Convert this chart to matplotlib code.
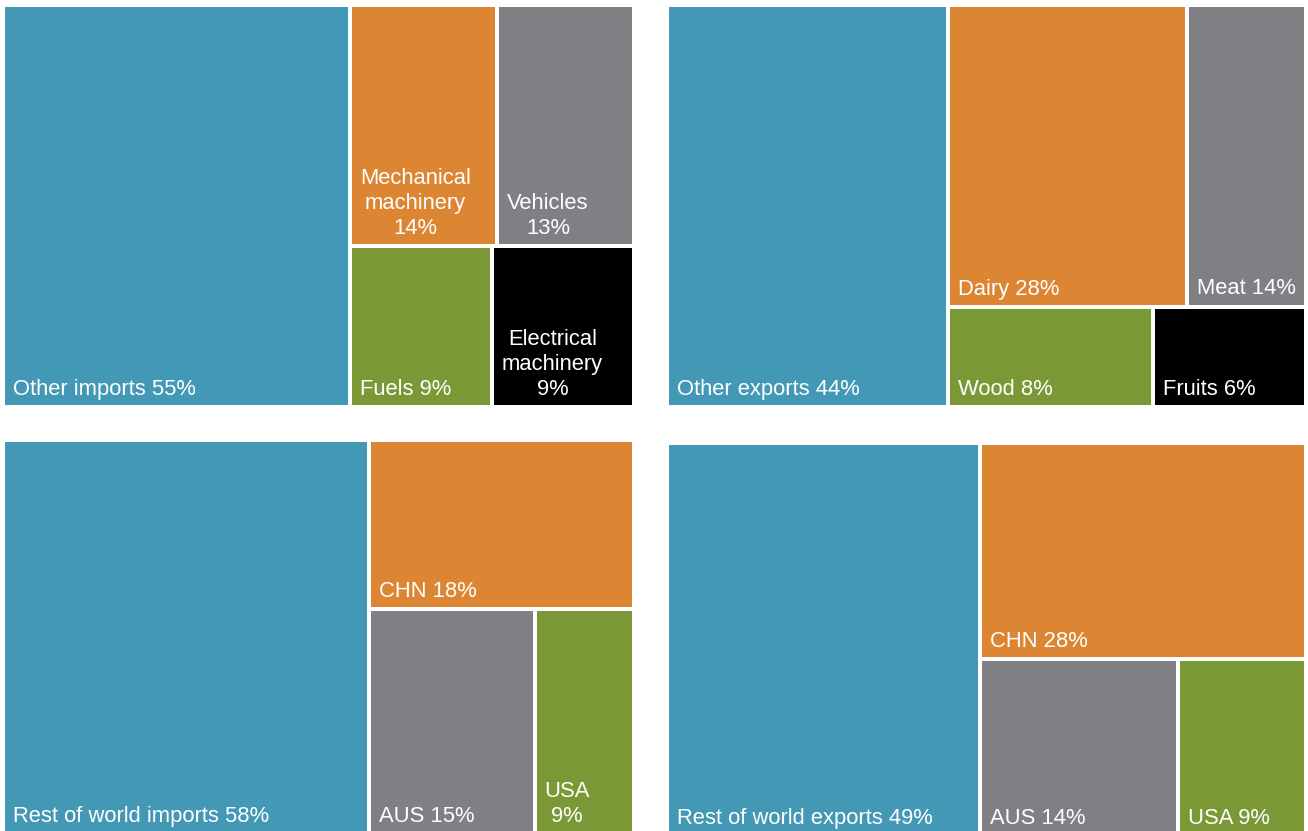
import matplotlib
matplotlib.use("Agg")
import matplotlib.pyplot as plt
from matplotlib.patches import Rectangle

# Composition of trade, in percent of the total
imp_names = ["Other imports", "Mechanical\nmachinery", "Vehicles", "Fuels", "Electrical\nmachinery"]
imp_values = [55, 14, 13, 9, 9]
imp_seps = [" ", "\n", "\n", " ", "\n"]

exp_names = ["Other exports", "Dairy", "Meat", "Wood", "Fruits"]
exp_values = [44, 28, 14, 8, 6]
exp_seps = [" ", " ", " ", " ", " "]

src_names = ["Rest of world imports", "CHN", "AUS", "USA"]
src_values = [58, 18, 15, 9]
src_seps = [" ", " ", " ", "\n"]

dst_names = ["Rest of world exports", "CHN", "AUS", "USA"]
dst_values = [49, 28, 14, 9]
dst_seps = [" ", " ", " ", " "]

colors = ["#4398B5", "#DC8634", "#808084", "#7A9836", "#000000"]

GAP = 2      # half of the white gutter between tiles
PAD_X = 8
PAD_Y = 5
FS = 15.8


def layout(values, rows, x0, y0, x1, y1):
    """First value is a full-height column, the rest are stacked rows."""
    total = float(sum(values))
    w = x1 - x0
    h = y1 - y0
    xs = x0 + w * values[0] / total
    boxes = [(x0, y0, xs, y1)]
    rest = total - values[0]
    y = y0
    for row in rows:
        row_sum = sum(values[i] for i in row)
        yb = y + h * row_sum / rest
        x = xs
        for i in row:
            xe = x + (x1 - xs) * values[i] / row_sum
            boxes.append((x, y, xe, yb))
            x = xe
        y = yb
    return boxes


def draw_treemap(ax, names, values, seps, rows, slot):
    boxes = layout(values, rows, *slot)
    for k, (bx0, by0, bx1, by1) in enumerate(boxes):
        ax.add_patch(Rectangle((bx0 + GAP, by0 + GAP), bx1 - bx0 - 2 * GAP,
                               by1 - by0 - 2 * GAP, facecolor=colors[k],
                               edgecolor="none"))
        label = f"{names[k]}{seps[k]}{values[k]}%"
        ax.text(bx0 + GAP + PAD_X, by1 - GAP - PAD_Y, label, color="white",
                fontsize=FS, ha="left", va="bottom", multialignment="center",
                linespacing=1.25)


plt.rcParams["font.family"] = ["Liberation Sans", "DejaVu Sans"]

fig = plt.figure(figsize=(13.08, 8.31), dpi=100)
ax = fig.add_axes([0, 0, 1, 1])
ax.set_xlim(0, 1308)
ax.set_ylim(831, 0)
ax.axis("off")

draw_treemap(ax, imp_names, imp_values, imp_seps, [[1, 2], [3, 4]], (3, 5, 634, 407))
draw_treemap(ax, exp_names, exp_values, exp_seps, [[1, 2], [3, 4]], (667, 5, 1306, 407))
draw_treemap(ax, src_names, src_values, src_seps, [[1], [2, 3]], (3, 440, 634, 834))
draw_treemap(ax, dst_names, dst_values, dst_seps, [[1], [2, 3]], (667, 443, 1306, 836))

fig.savefig("out.png", dpi=100, facecolor="white")
